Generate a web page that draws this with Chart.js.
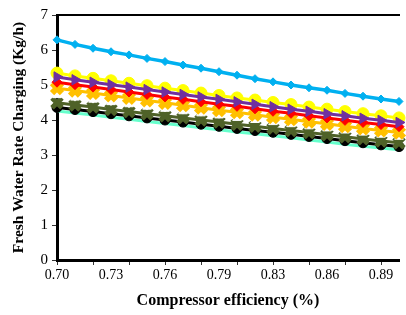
<!DOCTYPE html>
<html>
<head>
<meta charset="utf-8">
<script src="https://cdn.jsdelivr.net/npm/chart.js@4"></script>
<style>
  html, body { margin: 0; padding: 0; background: #fff; overflow: hidden; }
  #wrap { width: 412px; height: 315px; }
</style>
</head>
<body>
<div id="wrap"><canvas id="c" width="412" height="315"></canvas></div>
<script>
// Rendement du compresseur (axe X, 20 points de 0.70 à 0.90)
const efficiency = [0.7000, 0.7105, 0.7211, 0.7316, 0.7421, 0.7526, 0.7632, 0.7737, 0.7842, 0.7947,
                    0.8053, 0.8158, 0.8263, 0.8368, 0.8474, 0.8579, 0.8684, 0.8789, 0.8895, 0.9000];
const yTicks = [0, 1, 2, 3, 4, 5, 6, 7];

// Séries (Kg/h)
const blueSeries   = [6.29, 6.16, 6.05, 5.95, 5.86, 5.76, 5.67, 5.57, 5.48, 5.38, 5.28, 5.18, 5.09, 5.00, 4.92, 4.85, 4.76, 4.68, 4.60, 4.53];
const yellowSeries = [5.34, 5.26, 5.19, 5.12, 5.05, 4.98, 4.91, 4.84, 4.77, 4.70, 4.63, 4.57, 4.50, 4.44, 4.37, 4.31, 4.24, 4.18, 4.12, 4.06];
const purpleSeries = [5.23, 5.15, 5.08, 5.01, 4.94, 4.87, 4.80, 4.73, 4.66, 4.59, 4.52, 4.45, 4.38, 4.31, 4.25, 4.18, 4.12, 4.05, 3.99, 3.93];
const redSeries    = [5.08, 5.01, 4.94, 4.87, 4.80, 4.73, 4.66, 4.59, 4.52, 4.45, 4.39, 4.32, 4.25, 4.19, 4.12, 4.06, 3.99, 3.93, 3.87, 3.81];
const orangeSeries = [4.91, 4.84, 4.77, 4.70, 4.63, 4.56, 4.49, 4.42, 4.35, 4.28, 4.22, 4.15, 4.08, 4.02, 3.95, 3.89, 3.82, 3.76, 3.70, 3.64];
const whiteSeries  = [4.71, 4.64, 4.58, 4.51, 4.45, 4.38, 4.32, 4.25, 4.19, 4.13, 4.06, 4.00, 3.94, 3.88, 3.82, 3.76, 3.70, 3.64, 3.58, 3.52];
const greenSeries  = [4.49, 4.43, 4.37, 4.30, 4.24, 4.18, 4.12, 4.06, 4.00, 3.94, 3.88, 3.82, 3.76, 3.70, 3.64, 3.58, 3.52, 3.46, 3.40, 3.35];
const blackSeries  = [4.36, 4.30, 4.24, 4.18, 4.12, 4.06, 4.00, 3.94, 3.88, 3.82, 3.76, 3.70, 3.65, 3.59, 3.53, 3.47, 3.41, 3.35, 3.29, 3.24];
const tealSeries   = [4.26, 4.20, 4.14, 4.08, 4.02, 3.96, 3.90, 3.84, 3.78, 3.72, 3.66, 3.61, 3.55, 3.49, 3.43, 3.37, 3.31, 3.25, 3.20, 3.15];

const serif = "'Liberation Serif', 'Times New Roman', serif";

const serie = (data, color, style, radius, extra = {}) => ({
    data: data,
    borderColor: color,
    backgroundColor: color,
    pointBackgroundColor: color,
    pointBorderColor: color,
    pointStyle: style,
    pointRadius: radius,
    borderWidth: 3,
    pointBorderWidth: 1,
    tension: 0,
    ...extra
});

// index 0 dessiné au-dessus
const datasets = [
    serie(blueSeries, '#00B0F0', 'rectRot', 4, { borderWidth: 3.5 }),
    serie(purpleSeries, '#7030A0', 'triangle', 6, { pointRotation: 90 }),
    serie(redSeries, '#FF0000', 'rectRot', 5),
    serie(orangeSeries, '#FFC000', 'crossRot', 7, { pointBorderWidth: 6 }),
    serie(whiteSeries, '#FFFFFF', 'triangle', 5),
    serie(yellowSeries, '#FFFF00', 'circle', 6),
    serie(greenSeries, '#4F6228', 'crossRot', 7, { pointBorderWidth: 5 }),
    serie(blackSeries, '#000000', 'circle', 5),
    serie(tealSeries, '#66FFCC', 'dash', 5, { pointRotation: -35, pointBorderWidth: 2 })
];

new Chart(document.getElementById('c').getContext('2d'), {
    type: 'line',
    data: { labels: efficiency.map(v => v.toFixed(2)), datasets: datasets },
    options: {
        responsive: false,
        animation: false,
        events: [],
        layout: { padding: { left: 0, right: 2, top: 0, bottom: 0 } },
        plugins: { legend: { display: false }, tooltip: { enabled: false } },
        scales: {
            x: {
                type: 'category',
                offset: false,
                afterFit: s => { s.height = 55; },
                grid: {
                    drawOnChartArea: false,
                    tickLength: 5,
                    tickColor: ctx => ctx.index % 2 === 0 ? '#333' : 'rgba(0,0,0,0)'
                },
                border: { color: '#000', width: 3 },
                ticks: {
                    autoSkip: false,
                    maxRotation: 0,
                    color: '#000',
                    padding: 2,
                    font: { family: serif, size: 14 },
                    callback: (v, i) => i % 3 === 0 ? efficiency[i].toFixed(2) : ''
                },
                title: {
                    display: true,
                    text: 'Compressor efficiency (%)',
                    color: '#000',
                    font: { family: serif, size: 16, weight: 'bold' },
                    padding: { top: 4, bottom: 5 }
                }
            },
            xTop: {
                type: 'category',
                position: 'top',
                afterFit: s => { s.height = 15; },
                grid: { display: false },
                ticks: { display: false },
                border: { color: '#000', width: 2 }
            },
            y: {
                min: 0,
                max: 7,
                afterFit: s => { s.width = 57; },
                afterBuildTicks: s => { s.ticks = yTicks.map(v => ({ value: v })); },
                grid: { drawOnChartArea: false, tickLength: 5, tickColor: '#333' },
                border: { color: '#000', width: 3 },
                ticks: {
                    color: '#000',
                    padding: 4,
                    font: { family: serif, size: 15 }
                },
                title: {
                    display: true,
                    text: 'Fresh Water Rate Charging (Kg/h)',
                    color: '#000',
                    font: { family: serif, size: 15.5, weight: 'bold' },
                    padding: { top: 10, bottom: 0 }
                }
            }
        }
    }
});
</script>
</body>
</html>
